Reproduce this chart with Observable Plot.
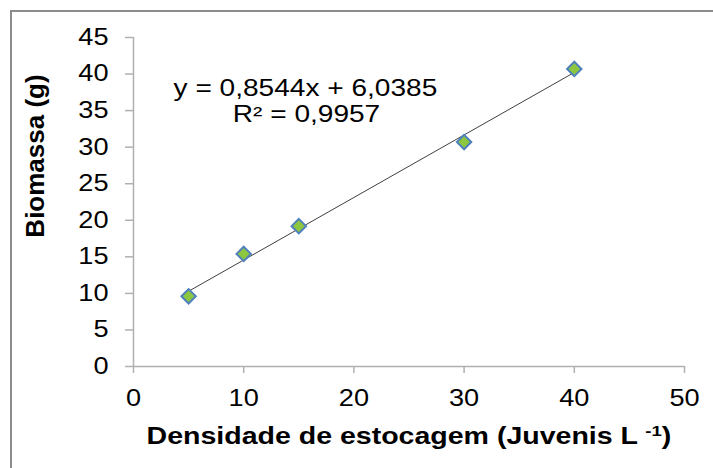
<!DOCTYPE html>
<html><head><meta charset="utf-8">
<script src="https://cdn.jsdelivr.net/npm/d3@7"></script>
<script src="https://cdn.jsdelivr.net/npm/@observablehq/plot@0.6"></script>
<style>
html,body{margin:0;padding:0;background:#fff;}
#wrap{position:relative;width:713px;height:468px;overflow:hidden;background:#fff;}
#frame{position:absolute;left:10px;top:10px;width:800px;height:600px;border-left:2px solid #8c8c8c;border-top:2px solid #8c8c8c;}
#chart{position:absolute;left:0;top:0;}
</style></head><body>
<div id="wrap"><div id="frame"></div><div id="chart"></div></div>
<script>
const densidade = [5, 10, 15, 30, 40];
const biomassa = [9.6, 15.4, 19.2, 30.7, 40.7];
const xTicks = [0, 10, 20, 30, 40, 50];
const yTicks = [0, 5, 10, 15, 20, 25, 30, 35, 40, 45];
const equacao = "y = 0,8544x + 6,0385";
const r2 = "R² = 0,9957";
const xLabel = "Densidade de estocagem (Juvenis L ";
const xLabelSup = "-1";
const xLabelEnd = ")";
const yLabel = "Biomassa (g)";

const data = densidade.map((d, i) => ({x: d, y: biomassa[i]}));
const axisColor = "#b0b0b0";
const font = "'Liberation Sans', Arial, sans-serif";

const plot = Plot.plot({
  width: 713, height: 468,
  marginLeft: 133, marginRight: 29, marginTop: 37, marginBottom: 102,
  style: {fontFamily: font, fontSize: "23px", color: "#000", background: "transparent", overflow: "visible"},
  x: {domain: [0, 50]},
  y: {domain: [0, 45]},
  marks: [
    Plot.ruleY([0], {stroke: axisColor, strokeWidth: 1.5}),
    Plot.ruleX([0], {stroke: axisColor, strokeWidth: 1.5}),
    Plot.axisX(xTicks, {tickSize: 7, tickPadding: 16, stroke: axisColor, strokeWidth: 1.5, fill: "#000", fontSize: 23, label: null}),
    Plot.axisY(yTicks, {tickSize: 8, tickPadding: 17, stroke: axisColor, strokeWidth: 1.5, fill: "#000", fontSize: 23, label: null}),
    Plot.linearRegressionY(data, {x: "x", y: "y", ci: 0, stroke: "#404040", strokeWidth: 1}),
    Plot.dot(data, {x: "x", y: "y", symbol: "diamond2", r: 6.5, fill: "#8DC63F", stroke: "#4F81BD", strokeWidth: 2}),
    Plot.text([equacao], {x: () => 15.6, y: () => 38.0, text: d => d, textAnchor: "middle", lineAnchor: "middle", fontSize: 23, className: "eq1"}),
    Plot.text([r2], {x: () => 15.7, y: () => 34.5, text: d => d, textAnchor: "middle", lineAnchor: "middle", fontSize: 23, className: "eq2"}),
    Plot.text([yLabel], {frameAnchor: "left", dx: -98, dy: -46, rotate: -90, text: d => d, textAnchor: "middle", lineAnchor: "middle", fontSize: 26, fontWeight: "bold"}),
    Plot.text([xLabel], {frameAnchor: "bottom", dy: 70, text: d => d, textAnchor: "middle", lineAnchor: "middle", fontSize: 23, fontWeight: "bold", className: "xlabel"})
  ]
});
document.getElementById("chart").appendChild(plot);

// superscript in x label
const xl = plot.querySelector(".xlabel text");
if (xl) {
  xl.textContent = "";
  const ns = "http://www.w3.org/2000/svg";
  const t1 = document.createElementNS(ns, "tspan"); t1.textContent = xLabel; xl.appendChild(t1);
  const t2 = document.createElementNS(ns, "tspan"); t2.textContent = xLabelSup; t2.setAttribute("font-size", "15"); t2.setAttribute("dy", "-8"); xl.appendChild(t2);
  const t3 = document.createElementNS(ns, "tspan"); t3.textContent = xLabelEnd; t3.setAttribute("dy", "8"); xl.appendChild(t3);
}
function stretch(el, k) {
  const L = el.getComputedTextLength();
  el.setAttribute("textLength", (L * k).toFixed(1));
  el.setAttribute("lengthAdjust", "spacingAndGlyphs");
}
plot.querySelectorAll('g[aria-label="x-axis tick label"] text, g[aria-label="y-axis tick label"] text').forEach(t => stretch(t, 1.18));
plot.querySelectorAll('.eq1 text, .eq2 text').forEach(t => stretch(t, 1.22));
if (xl) stretch(xl, 1.24);
</script>
</body></html>
